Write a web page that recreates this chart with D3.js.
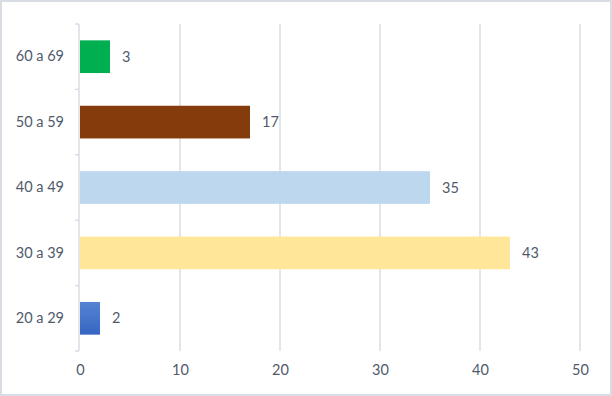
<!DOCTYPE html>
<html>
<head>
<meta charset="utf-8">
<script src="https://cdn.jsdelivr.net/npm/d3@7"></script>
<style>
  body { margin: 0; background: #fff; }
  text { font-family: Lato, "Liberation Sans", Arial, sans-serif; }
</style>
</head>
<body>
<svg id="chart"></svg>
<script>
const width = 612;
const height = 396;
const categories = ["60 a 69", "50 a 59", "40 a 49", "30 a 39", "20 a 29"];
const values = [3, 17, 35, 43, 2];
const barColors = ["#00b050", "#843c0c", "#bdd7ee", "#ffe699", "url(#blueGrad)"];
const xTicks = [0, 10, 20, 30, 40, 50];

const text_color = "#505a6b";
const grid_color = "#d9dde3";
const font_size = "14.5px";

const margin = {top: 24, right: 32, bottom: 45, left: 80};

var svg = d3.select("#chart")
  .attr("width", width)
  .attr("height", height);

// gradient for the small blue bar
var grad = svg.append("defs").append("linearGradient")
  .attr("id", "blueGrad")
  .attr("x1", 0).attr("y1", 0).attr("x2", 0).attr("y2", 1);
grad.append("stop").attr("offset", "0%").attr("stop-color", "#5684d2");
grad.append("stop").attr("offset", "100%").attr("stop-color", "#3565c3");

// outer border
svg.append("rect")
  .attr("x", 1).attr("y", 1)
  .attr("width", width - 2).attr("height", height - 2)
  .style("fill", "#fff")
  .style("stroke", grid_color)
  .style("stroke-width", 2);

var x = d3.scaleLinear()
  .domain([0, 50])
  .range([margin.left, width - margin.right]);

var y = d3.scaleBand()
  .domain(categories)
  .range([margin.top, height - margin.bottom])
  .paddingInner(0.5)
  .paddingOuter(0.25);

var g = svg.append("g");

// vertical gridlines
g.append("g")
  .selectAll("line")
  .data(xTicks.slice(1))
  .enter().append("line")
  .attr("x1", d => x(d)).attr("x2", d => x(d))
  .attr("y1", margin.top).attr("y2", height - margin.bottom)
  .style("stroke", grid_color)
  .style("stroke-width", 1.5);

// x axis labels
var xAxis = d3.axisBottom(x).tickValues(xTicks).tickSize(0).tickPadding(14);
var xg = g.append("g")
  .attr("transform", `translate(0,${height - margin.bottom})`)
  .call(xAxis);
xg.select(".domain").remove();
xg.selectAll("text").style("font-size", font_size).style("fill", text_color);

// y axis with ticks at band boundaries
var yg = g.append("g")
  .attr("transform", `translate(${margin.left - 1},0)`)
  .call(d3.axisLeft(y).tickSize(0).tickPadding(15));
yg.select(".domain").style("stroke", grid_color).style("stroke-width", 1.5)
  .attr("d", `M0,${margin.top}V${height - margin.bottom}`);
yg.selectAll("text").style("font-size", font_size).style("fill", text_color);

var bounds = d3.range(categories.length + 1).map(i => margin.top + i * (height - margin.top - margin.bottom) / categories.length);
yg.append("g").selectAll("line")
  .data(bounds)
  .enter().append("line")
  .attr("x1", -4).attr("x2", 0)
  .attr("y1", d => d).attr("y2", d => d)
  .style("stroke", grid_color)
  .style("stroke-width", 1.5);

// bars
g.append("g")
  .selectAll("rect")
  .data(values)
  .enter().append("rect")
  .attr("x", x(0))
  .attr("y", (d, i) => y(categories[i]))
  .attr("width", d => x(d) - x(0))
  .attr("height", y.bandwidth())
  .style("fill", (d, i) => barColors[i]);

// value labels
g.append("g")
  .selectAll("text")
  .data(values)
  .enter().append("text")
  .attr("x", d => x(d) + 12)
  .attr("y", (d, i) => y(categories[i]) + y.bandwidth() / 2)
  .attr("dy", "0.35em")
  .style("font-size", font_size)
  .style("fill", text_color)
  .text(d => d);
</script>
</body>
</html>
